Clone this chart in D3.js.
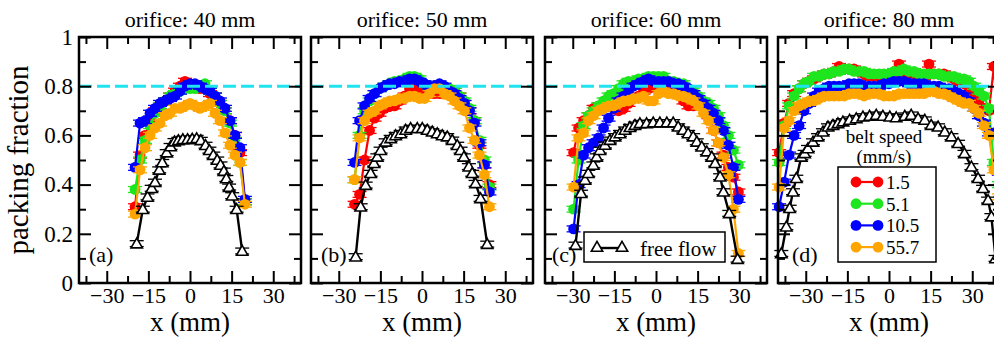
<!DOCTYPE html>
<html>
<head>
<meta charset="utf-8">
<script src="https://cdn.jsdelivr.net/npm/d3@7"></script>
<style>
body { margin: 0; background: #fff; }
svg text { font-family: 'Liberation Serif', 'DejaVu Serif', serif; fill: #000; }
</style>
</head>
<body>
<div id="container"></div>
<script>
// ---- data ----
const titles = ['orifice: 40 mm', 'orifice: 50 mm', 'orifice: 60 mm', 'orifice: 80 mm'];
const tags = ['(a)', '(b)', '(c)', '(d)'];
const speeds = ['1.5', '5.1', '10.5', '55.7'];
const xTicks = [-30, -15, 0, 15, 30];
const xMinor = [-37.5, -22.5, -7.5, 7.5, 22.5, 37.5];
const yTicks = [0, 0.2, 0.4, 0.6, 0.8, 1];
const yMinor = [0.1, 0.3, 0.5, 0.7, 0.9];
const refLine = 0.8;

// (a) orifice 40 mm
const xA = [-19.8,-18,-16.2,-14.4,-12.6,-10.8,-9,-7.2,-5.4,-3.6,-1.8,0,1.8,3.6,5.4,7.2,9,10.8,12.6,14.4,16.2,18,19.8];
const redA = [0.31,0.52,0.60,0.66,0.70,0.72,0.74,0.76,0.78,0.80,0.82,0.80,0.80,0.79,0.79,0.77,0.76,0.73,0.70,0.66,0.60,0.53,0.33];
const greenA = [0.38,0.50,0.58,0.64,0.69,0.72,0.74,0.76,0.77,0.78,0.79,0.79,0.79,0.80,0.81,0.78,0.76,0.73,0.70,0.65,0.58,0.49,0.33];
const blueA = [0.47,0.65,0.66,0.69,0.71,0.73,0.74,0.75,0.76,0.78,0.80,0.81,0.81,0.80,0.79,0.78,0.76,0.74,0.71,0.66,0.60,0.55,0.34];
const orangeA = [0.28,0.46,0.55,0.60,0.63,0.65,0.68,0.69,0.71,0.71,0.72,0.73,0.72,0.71,0.72,0.73,0.69,0.66,0.61,0.56,0.52,0.49,0.32];
const ffxA = [-19.2,-17.0,-15.3,-13.8,-12.6,-11.1,-10.0,-8.4,-7.0,-5.6,-4.2,-2.6,-0.9,0.8,2.4,3.9,5.6,7.0,8.4,9.8,11.0,12.2,13.1,14.1,15.2,16.8,18.8];
const ffA = [0.16,0.30,0.35,0.385,0.41,0.46,0.49,0.53,0.555,0.575,0.58,0.584,0.584,0.586,0.588,0.58,0.56,0.54,0.52,0.50,0.48,0.455,0.425,0.39,0.355,0.30,0.13];

// (b) orifice 50 mm
const xB = [-24.3,-22.5,-20.7,-18.9,-17.1,-15.3,-13.5,-11.7,-9.9,-8.1,-6.3,-4.5,-2.7,-0.9,0.9,2.7,4.5,6.3,8.1,9.9,11.7,13.5,15.3,17.1,18.9,20.7,22.5,24.3];
const redB = [0.32,0.36,0.50,0.62,0.67,0.69,0.71,0.72,0.72,0.74,0.76,0.79,0.79,0.78,0.77,0.77,0.77,0.77,0.77,0.77,0.78,0.76,0.73,0.70,0.66,0.56,0.48,0.40];
const greenB = [0.42,0.60,0.70,0.74,0.77,0.79,0.80,0.81,0.82,0.82,0.83,0.84,0.84,0.83,0.81,0.80,0.80,0.80,0.79,0.79,0.78,0.76,0.74,0.71,0.66,0.58,0.50,0.39];
const blueB = [0.49,0.66,0.72,0.75,0.77,0.79,0.80,0.81,0.81,0.82,0.82,0.83,0.83,0.82,0.81,0.80,0.80,0.81,0.80,0.78,0.77,0.75,0.73,0.70,0.65,0.57,0.48,0.37];
const orangeB = [0.42,0.59,0.66,0.69,0.70,0.72,0.73,0.74,0.74,0.75,0.75,0.76,0.76,0.75,0.75,0.77,0.79,0.79,0.77,0.76,0.74,0.72,0.70,0.63,0.58,0.52,0.44,0.31];
const ffxB = [-23.9,-22.1,-20.3,-18.5,-17.3,-16.1,-14.9,-13.1,-11.3,-9.5,-7.7,-5.9,-4.1,-1.7,0.1,1.9,3.7,5.5,7.3,9.1,10.9,12.7,13.9,15.1,16.9,18.1,19.3,21.1,23.5];
const ffB = [0.107,0.31,0.398,0.446,0.487,0.513,0.54,0.574,0.588,0.60,0.608,0.622,0.629,0.629,0.629,0.622,0.615,0.608,0.60,0.595,0.581,0.56,0.54,0.513,0.473,0.446,0.405,0.344,0.158];

// (c) orifice 60 mm
const xC = [-29.7,-27.9,-26.1,-24.3,-22.5,-20.7,-18.9,-17.1,-15.3,-13.5,-11.7,-9.9,-8.1,-6.3,-4.5,-2.7,-0.9,0.9,2.7,4.5,6.3,8.1,9.9,11.7,13.5,15.3,17.1,18.9,20.7,22.5,24.3,26.1,27.9,29.7];
const redC = [0.53,0.63,0.66,0.68,0.71,0.72,0.72,0.72,0.71,0.70,0.71,0.73,0.75,0.76,0.78,0.79,0.80,0.79,0.79,0.79,0.78,0.77,0.74,0.72,0.72,0.73,0.72,0.68,0.62,0.57,0.52,0.47,0.43,0.37];
const greenC = [0.30,0.50,0.64,0.68,0.70,0.72,0.74,0.76,0.77,0.79,0.81,0.82,0.82,0.83,0.83,0.84,0.84,0.84,0.84,0.82,0.82,0.81,0.81,0.79,0.78,0.76,0.74,0.73,0.71,0.68,0.64,0.60,0.54,0.48];
const blueC = [0.22,0.40,0.52,0.55,0.57,0.59,0.63,0.67,0.71,0.74,0.76,0.78,0.80,0.81,0.82,0.83,0.82,0.82,0.82,0.82,0.81,0.81,0.80,0.79,0.77,0.75,0.73,0.71,0.69,0.66,0.62,0.56,0.47,0.34];
const orangeC = [0.39,0.59,0.61,0.66,0.68,0.70,0.71,0.72,0.72,0.73,0.74,0.74,0.75,0.75,0.76,0.74,0.74,0.77,0.78,0.77,0.77,0.76,0.76,0.75,0.74,0.72,0.69,0.66,0.62,0.57,0.51,0.44,0.30,0.12];
const ffxC = [-29.0,-27.0,-25.6,-24.4,-22.6,-21.4,-20.2,-18.4,-16.6,-14.8,-13.0,-11.2,-9.4,-7.6,-5.8,-3.4,-1.0,1.4,3.9,6.2,8.0,9.8,11.6,13.4,14.7,16.5,18.3,20.1,21.3,23.1,24.3,26.4,29.4];
const ffC = [0.154,0.365,0.419,0.446,0.48,0.513,0.54,0.561,0.581,0.595,0.608,0.622,0.633,0.642,0.649,0.649,0.652,0.652,0.652,0.652,0.635,0.622,0.608,0.595,0.574,0.554,0.534,0.513,0.487,0.432,0.371,0.283,0.097];

// (d) orifice 80 mm
const xD = [-39.6,-37.8,-36,-34.2,-32.4,-30.6,-28.8,-27,-25.2,-23.4,-21.6,-19.8,-18,-16.2,-14.4,-12.6,-10.8,-9,-7.2,-5.4,-3.6,-1.8,0,1.8,3.6,5.4,7.2,9,10.8,12.6,14.4,16.2,18,19.8,21.6,23.4,25.2,27,28.8,30.6,32.4,34.2,36,37.8,39.6];
const redD = [0.53,0.65,0.73,0.77,0.79,0.81,0.82,0.83,0.84,0.85,0.85,0.86,0.88,0.87,0.87,0.87,0.86,0.85,0.84,0.84,0.84,0.84,0.83,0.83,0.89,0.84,0.84,0.83,0.83,0.84,0.89,0.85,0.85,0.85,0.84,0.83,0.82,0.81,0.79,0.77,0.74,0.71,0.70,0.88,0.60];
const greenD = [0.49,0.64,0.72,0.76,0.79,0.81,0.82,0.84,0.84,0.85,0.85,0.86,0.86,0.87,0.87,0.86,0.86,0.86,0.85,0.85,0.85,0.85,0.85,0.86,0.86,0.87,0.86,0.86,0.85,0.85,0.85,0.85,0.85,0.84,0.84,0.84,0.83,0.83,0.82,0.80,0.78,0.76,0.71,0.49,0.40];
const blueD = [0.31,0.41,0.52,0.60,0.64,0.70,0.73,0.76,0.78,0.79,0.80,0.80,0.80,0.80,0.81,0.81,0.81,0.80,0.80,0.80,0.80,0.81,0.81,0.82,0.82,0.82,0.81,0.81,0.81,0.81,0.80,0.80,0.80,0.79,0.79,0.78,0.77,0.76,0.74,0.71,0.68,0.65,0.61,0.61,0.45];
const orangeD = [0.39,0.63,0.66,0.70,0.72,0.73,0.74,0.74,0.75,0.76,0.76,0.76,0.76,0.76,0.77,0.77,0.77,0.76,0.77,0.77,0.77,0.76,0.76,0.76,0.77,0.77,0.77,0.77,0.77,0.77,0.78,0.78,0.77,0.77,0.76,0.75,0.74,0.73,0.73,0.71,0.69,0.64,0.60,0.46,0.35];
const ffxD = [-38.8,-37,-35.8,-34.6,-33.4,-31.6,-30.4,-29.2,-27.4,-25.6,-23.8,-22,-20.2,-18.4,-16.6,-14.2,-11.8,-9.4,-7,-4.6,-2.2,0.3,2.6,5.7,8,10.5,12.9,15.2,17.7,20.1,22.5,24.9,27.2,29.7,32.1,33.9,35.7,36.9,38.4];
const ffD = [0.12,0.229,0.304,0.371,0.426,0.513,0.527,0.547,0.574,0.595,0.615,0.635,0.642,0.649,0.656,0.663,0.669,0.676,0.679,0.683,0.679,0.676,0.673,0.679,0.683,0.669,0.663,0.642,0.635,0.615,0.595,0.568,0.527,0.473,0.426,0.385,0.337,0.27,0.1];

const panels = [
  { x: xA, series: [redA, greenA, blueA, orangeA], ffx: ffxA, ff: ffA },
  { x: xB, series: [redB, greenB, blueB, orangeB], ffx: ffxB, ff: ffB },
  { x: xC, series: [redC, greenC, blueC, orangeC], ffx: ffxC, ff: ffC },
  { x: xD, series: [redD, greenD, blueD, orangeD], ffx: ffxD, ff: ffD }
];

// ---- layout ----
const colors = ['#ff0000', '#1ee61e', '#0000ff', '#ffa500'];
const lefts = [79, 311, 545, 778];
const tagShift = [10, 10, 7, 14];
const pw = 222;
const plotTop = 37, plotBottom = 283;
const err = 0.012, cap = 7;
const triSize = 56;

const svg = d3.select('#container').append('svg')
  .attr('width', 994).attr('height', 338)
  .style('background', '#fff');

const y = d3.scaleLinear().domain([0, 1]).range([plotBottom, plotTop]);

panels.forEach((p, k) => {
  const L = lefts[k];
  const x = d3.scaleLinear().domain([-40, 40]).range([L, L + pw]);
  const g = svg.append('g');

  const line = d3.line().x(d => x(d[0])).y(d => y(d[1]));

  // coloured series
  p.series.forEach((vals, s) => {
    const pts = vals.map((v, i) => [p.x[i], v]);
    const sg = g.append('g');
    sg.append('path').datum(pts)
      .attr('d', line).attr('fill', 'none')
      .attr('stroke', colors[s]).attr('stroke-width', 2.2);
    const eb = sg.selectAll('.eb').data(pts).enter().append('g');
    eb.append('line')
      .attr('x1', d => x(d[0])).attr('x2', d => x(d[0]))
      .attr('y1', d => y(d[1] - err)).attr('y2', d => y(d[1] + err));
    eb.append('line')
      .attr('x1', d => x(d[0]) - cap).attr('x2', d => x(d[0]) + cap)
      .attr('y1', d => y(d[1] - err)).attr('y2', d => y(d[1] - err));
    eb.append('line')
      .attr('x1', d => x(d[0]) - cap).attr('x2', d => x(d[0]) + cap)
      .attr('y1', d => y(d[1] + err)).attr('y2', d => y(d[1] + err));
    eb.selectAll('line').attr('stroke', colors[s]).attr('stroke-width', 1.3);
    sg.selectAll('circle').data(pts).enter().append('circle')
      .attr('cx', d => x(d[0])).attr('cy', d => y(d[1]))
      .attr('r', 5.4).attr('fill', colors[s]);
  });

  // free flow
  const fpts = p.ff.map((v, i) => [p.ffx[i], v]);
  g.append('path').datum(fpts)
    .attr('d', line).attr('fill', 'none')
    .attr('stroke', '#000').attr('stroke-width', 2.4);
  const feb = g.selectAll('.feb').data(fpts).enter().append('g');
  feb.append('line')
    .attr('x1', d => x(d[0]) - cap).attr('x2', d => x(d[0]) + cap)
    .attr('y1', d => y(d[1] - err)).attr('y2', d => y(d[1] - err));
  feb.append('line')
    .attr('x1', d => x(d[0]) - cap).attr('x2', d => x(d[0]) + cap)
    .attr('y1', d => y(d[1] + err)).attr('y2', d => y(d[1] + err));
  feb.selectAll('line').attr('stroke', '#000').attr('stroke-width', 1.3);
  g.selectAll('.tri').data(fpts).enter().append('path')
    .attr('d', d3.symbol(d3.symbolTriangle, triSize))
    .attr('transform', d => `translate(${x(d[0])},${y(d[1]) + 1})`)
    .attr('fill', '#fff').attr('stroke', '#000').attr('stroke-width', 1.6);

  // reference line
  g.append('line')
    .attr('x1', x(-40)).attr('x2', x(40))
    .attr('y1', y(refLine)).attr('y2', y(refLine))
    .attr('stroke', '#1fe4f0').attr('stroke-width', 3)
    .attr('stroke-dasharray', '13,5');

  // ticks, inward on every side
  const axes = [
    d3.axisBottom(x).tickValues(xTicks).tickSize(-12).tickPadding(4).tickFormat(d3.format('d')),
    d3.axisBottom(x).tickValues(xMinor).tickSize(-7).tickFormat(''),
    d3.axisTop(x).tickValues(xTicks).tickSize(-12).tickFormat(''),
    d3.axisTop(x).tickValues(xMinor).tickSize(-7).tickFormat('')
  ];
  axes.forEach((a, i) => {
    const ag = g.append('g')
      .attr('transform', `translate(0,${i < 2 ? plotBottom : plotTop})`).call(a);
    ag.attr('font-family', null).attr('font-size', null);
    ag.select('.domain').remove();
    ag.selectAll('line').attr('stroke-width', 2);
    ag.selectAll('text').style('font-size', '22px');
  });
  const yAxes = [
    [d3.axisLeft(y).tickValues(yTicks).tickSize(-12).tickPadding(6)
      .tickFormat(k === 0 ? (d => d === 0 || d === 1 ? d3.format('d')(d) : d3.format('.1f')(d)) : ''), L],
    [d3.axisLeft(y).tickValues(yMinor).tickSize(-7).tickFormat(''), L],
    [d3.axisRight(y).tickValues(yTicks).tickSize(-12).tickFormat(''), L + pw],
    [d3.axisRight(y).tickValues(yMinor).tickSize(-7).tickFormat(''), L + pw]
  ];
  yAxes.forEach(([a, tx]) => {
    const ag = g.append('g').attr('transform', `translate(${tx},0)`).call(a);
    ag.attr('font-family', null).attr('font-size', null);
    ag.select('.domain').remove();
    ag.selectAll('line').attr('stroke-width', 2);
    ag.selectAll('text').style('font-size', '23px');
  });

  // frame
  g.append('rect')
    .attr('x', L).attr('y', plotTop).attr('width', pw).attr('height', plotBottom - plotTop)
    .attr('fill', 'none').attr('stroke', '#000').attr('stroke-width', 2.5);

  // titles and tags
  svg.append('text')
    .attr('x', L + pw / 2).attr('y', 27).attr('text-anchor', 'middle')
    .style('font-size', '22px').text(titles[k]);
  svg.append('text')
    .attr('x', L + pw / 2).attr('y', 331).attr('text-anchor', 'middle')
    .style('font-size', '27px').text('x (mm)');
  svg.append('text')
    .attr('x', L + tagShift[k]).attr('y', 262)
    .style('font-size', '22px').text(tags[k]);

  // legends
  if (k === 2) {
    const lg = svg.append('g');
    lg.append('rect').attr('x', 584).attr('y', 232).attr('width', 141).attr('height', 30)
      .attr('fill', '#fff').attr('stroke', '#000').attr('stroke-width', 1.5);
    lg.append('line').attr('x1', 597).attr('x2', 622).attr('y1', 248).attr('y2', 248)
      .attr('stroke', '#000').attr('stroke-width', 2.4);
    lg.selectAll('.lt').data([597, 622]).enter().append('path')
      .attr('d', d3.symbol(d3.symbolTriangle, triSize))
      .attr('transform', d => `translate(${d},248)`)
      .attr('fill', '#fff').attr('stroke', '#000').attr('stroke-width', 1.6);
    lg.append('text').attr('x', 640).attr('y', 256).style('font-size', '21px').text('free flow');
  }
  if (k === 3) {
    const lg = svg.append('g');
    lg.append('text').attr('x', 884).attr('y', 143).attr('text-anchor', 'middle')
      .style('font-size', '19px').text('belt speed');
    lg.append('text').attr('x', 884).attr('y', 163).attr('text-anchor', 'middle')
      .style('font-size', '19px').text('(mm/s)');
    lg.append('rect').attr('x', 838).attr('y', 167).attr('width', 98).attr('height', 95)
      .attr('fill', '#fff').attr('stroke', '#000').attr('stroke-width', 1.5);
    const rows = lg.selectAll('.row').data(speeds).enter().append('g')
      .attr('transform', (d, i) => `translate(0,${182 + i * 21.7})`);
    rows.append('line').attr('x1', 856).attr('x2', 878).attr('y1', 0).attr('y2', 0)
      .attr('stroke', (d, i) => colors[i]).attr('stroke-width', 2.2);
    rows.selectAll('circle').data((d, i) => [[856, colors[i]], [878, colors[i]]]).enter()
      .append('circle').attr('cx', d => d[0]).attr('cy', 0).attr('r', 5.4).attr('fill', d => d[1]);
    rows.append('text').attr('x', 886).attr('y', 7).style('font-size', '19px').text(d => d);
  }
});

// y axis title
svg.append('text')
  .attr('transform', 'translate(28,160) rotate(-90)')
  .attr('text-anchor', 'middle')
  .style('font-size', '29px')
  .text('packing fraction');
</script>
</body>
</html>
